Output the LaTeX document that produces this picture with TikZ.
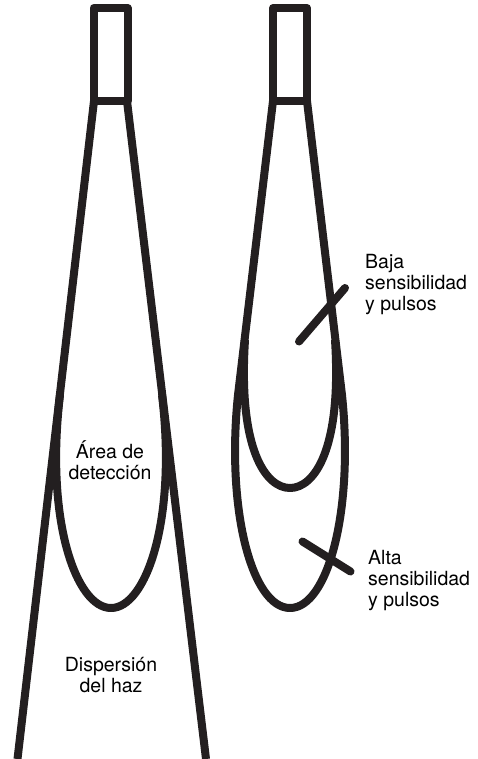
\documentclass[tikz,border=0pt]{standalone}
\usepackage{fontspec}
\setmainfont{TeX Gyre Heros}
\definecolor{inkblack}{HTML}{231F20}
\tikzset{
    beam/.style={line width=8pt, draw=inkblack, line join=round},
    pointer/.style={line width=8pt, draw=inkblack, line cap=round},
    caption/.style={font=\fontsize{19.5}{21}\selectfont, text=black, inner sep=0pt, align=center},
    sidecaption/.style={caption, align=left, anchor=west}
}
\begin{document}
\begin{tikzpicture}[x=1pt, y=-1pt]
    \useasboundingbox (0,0) rectangle (478,759);

    % Single beam
    \begin{scope}
        \draw[beam] (93.5,8) rectangle (127.5,101);
        \draw[beam] (94,101) -- (17.5,759);
        \draw[beam] (127,101) -- (206,759);

        % Detection area
        \draw[beam] (60,395) .. controls (45,520) and (76,608) .. (111,608)
            .. controls (146,608) and (177,520) .. (162,395);

        \node[caption] (area) at (110,460) {Área de\\detección};
        \node[caption] (haz) at (111,675) {Dispersión\\del haz};
    \end{scope}

    % Two sensitivities
    \begin{scope}
        \draw[beam] (273,8) rectangle (307,101);
        \draw[beam] (273,101) -- (238,395) .. controls (226,510) and (252,608) .. (290,608)
            .. controls (328,608) and (354,510) .. (342,395) -- (307,101);
        \draw[beam] (245,340) .. controls (238,450) and (266,488) .. (290,488)
            .. controls (314,488) and (342,450) .. (335,340);

        \coordinate (lowstart) at (299,341.5);
        \coordinate (lowend) at (345,288);
        \coordinate (highstart) at (302.5,541.5);
        \coordinate (highend) at (350.5,571.5);
        \draw[pointer] (lowstart) -- (lowend);
        \draw[pointer] (highstart) -- (highend);

        \node[sidecaption] (baja) at (365,285) {Baja\\sensibilidad\\y pulsos};
        \node[sidecaption] (alta) at (368,581) {Alta\\sensibilidad\\y pulsos};
    \end{scope}
\end{tikzpicture}
\end{document}
